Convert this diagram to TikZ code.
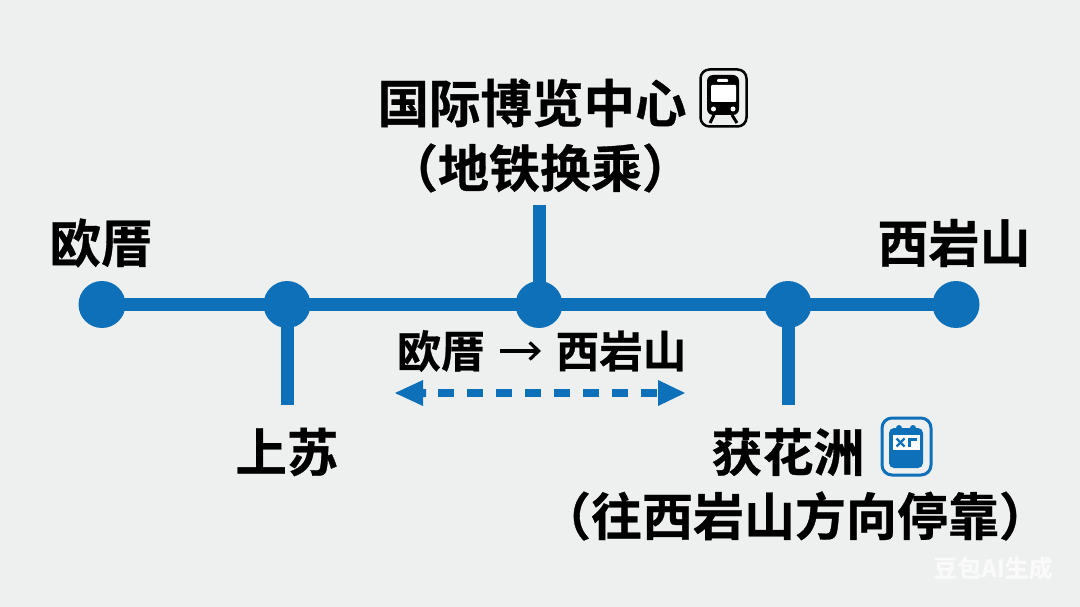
\documentclass[tikz,border=0pt]{standalone}
\usepackage{fontspec}
\setmainfont{Noto Sans CJK SC}[BoldFont={Noto Sans CJK SC Bold}]
\newfontfamily\cjkb{Noto Sans CJK SC Bold}[FakeBold=0.6]
\usetikzlibrary{arrows.meta,calc}
\definecolor{bgc}{HTML}{EEF0EF}
\definecolor{lineblue}{HTML}{0E70B9}
\definecolor{wm}{HTML}{FAFAFA}
\tikzset{
  stn/.style={circle,fill=lineblue,draw=none,minimum size=47pt,inner sep=0pt},
  rail/.style={draw=lineblue,line width=13pt},
  branch/.style={draw=lineblue,line width=13pt},
  lab/.style={inner sep=0pt,text=black,font=\cjkb\fontsize{#1}{#1}\selectfont},
  lab/.default=51pt,
}
\begin{document}
\begin{tikzpicture}[x=1pt,y=-1pt]
\useasboundingbox[fill=bgc] (0,0) rectangle (1080,607);
% free ends
\coordinate (tTop) at (539,205);
\coordinate (bSu) at (287,405);
\coordinate (bDi) at (788,405);
\coordinate (arrL) at (395,393);
\coordinate (arrR) at (685,393);
% stations
\node[stn] (s1) at (102,304.5) {};
\node[stn] (s2) at (287,304.5) {};
\node[stn] (s3) at (539,304.5) {};
\node[stn] (s4) at (788,304.5) {};
\node[stn] (s5) at (956,304.5) {};
\draw[rail] (s1.center) -- (s5.center);
\draw[branch] (tTop) -- (s3.center);
\draw[branch] (s2.center) -- (bSu);
\draw[branch] (s4.center) -- (bDi);
% labels
\node[lab=51.5pt] (l1) at (101,243) {欧厝};
\node[lab=51pt] (l2) at (954,243) {西岩山};
\node[lab=51.5pt] (l3) at (287,452) {上苏};
\node[lab=51.5pt] (l4) at (532,103) {国际博览中心};
\node[lab=51pt] (l5) at (540,168) {（地铁换乘）};
\node[lab=51pt] (l6) at (788,452) {获花洲};
\node[lab=51pt] (l7) at (795,516) {（往西岩山方向停靠）};
\node[lab=44pt] (l8) at (441,351) {欧厝};
\node[lab=43.5pt] (l9) at (621,351) {西岩山};
\coordinate (fa) at (500,351);
\coordinate (fb) at (541,351);
\draw[black,line width=3.2pt,-{Straight Barb[length=9pt,width=17pt,line width=3.2pt]}] (fa) -- (fb);
% direction arrow
\draw[lineblue,line width=8pt,dash pattern=on 16pt off 13pt] ($(arrL)+(43,0)$) -- ($(arrR)+(-27,0)$);
\fill[lineblue] (arrL) -- ++(28,-13) -- ++(0,9) -- ++(3,0) -- ++(0,8) -- ++(-3,0) -- ++(0,9) -- cycle;
\fill[lineblue] (arrR) -- ++(-27,-13) -- ++(0,26) -- cycle;
% train icon
\draw[black,line width=2.5pt,rounded corners=9pt] (700.5,69.5) rectangle (746.5,126.5);
\fill[black,rounded corners=6pt] (707,75) rectangle (739,115);
\fill[white,rounded corners=1pt] (711,85) rectangle (736,102);
\fill[white,rounded corners=1pt] (717,79) rectangle (728,82);
\fill[white] (713.5,109) circle (2.5);
\fill[white] (733,109) circle (2.5);
\draw[black,line width=3pt] (714,115) -- (710,123);
\draw[black,line width=3pt] (732,115) -- (737,123);
% ticket icon
\draw[lineblue,line width=3pt,rounded corners=10pt] (882,418) rectangle (931,475);
\fill[lineblue,rounded corners=5pt] (889,428) rectangle (923,468);
\fill[lineblue] (899,428) circle (3);
\fill[lineblue] (913,428) circle (3);
\fill[white!90!bgc] (893,435) rectangle (920,450);
\draw[lineblue,line width=2.4pt] (896.5,438.5) -- (904.5,446.5);
\draw[lineblue,line width=2.4pt] (904.5,438.5) -- (896.5,446.5);
\draw[lineblue,line width=2.4pt] (909.5,446.5) -- (909.5,439.5) -- (917,439.5);
% watermark
\node[inner sep=0pt,text=wm,font=\cjkb\fontsize{24}{24}\selectfont] (wmk) at (993,568) {豆包AI生成};
\end{tikzpicture}
\end{document}
